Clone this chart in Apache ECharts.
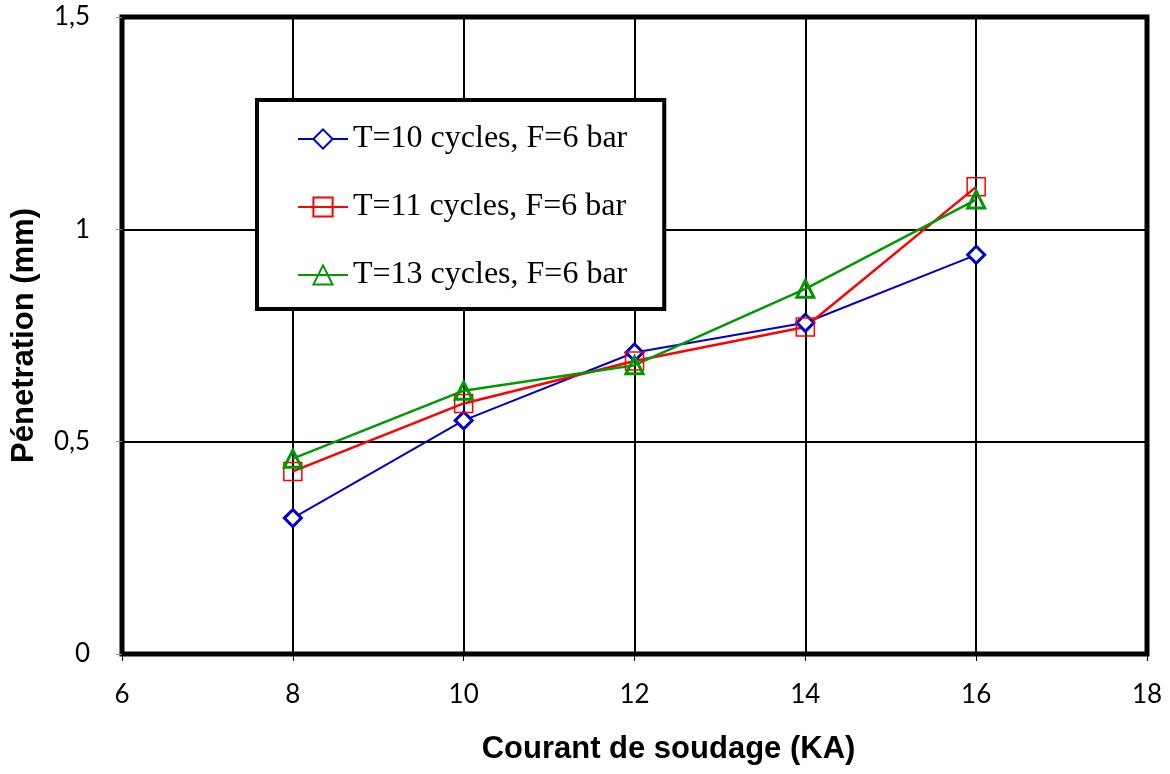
<!DOCTYPE html>
<html><head><meta charset="utf-8">
<script src="https://cdn.jsdelivr.net/npm/echarts@6/dist/echarts.min.js"></script>
<style>html,body{margin:0;padding:0;background:#fff}#c{width:1170px;height:774px}</style>
</head><body><div id="c"></div>
<script>
const currents = [8, 10, 12, 14, 16];
const seriesNames = ['T=10 cycles, F=6 bar', 'T=11 cycles, F=6 bar', 'T=13 cycles, F=6 bar'];
const penT10 = [0.32, 0.55, 0.71, 0.78, 0.94];
const penT11 = [0.43, 0.59, 0.69, 0.77, 1.10];
const penT13 = [0.46, 0.62, 0.68, 0.86, 1.07];
const xTitle = 'Courant de soudage (KA)';
const yTitle = 'Pénetration (mm)';

const pairs = v => currents.map((x, i) => [x, v[i]]);
const chart = echarts.init(document.getElementById('c'), null, {renderer: 'canvas'});
chart.setOption({
  animation: false,
  backgroundColor: '#fff',
  grid: {left: 122, right: 23, top: 17, bottom: 120, show: true, borderColor: '#000', borderWidth: 5, backgroundColor: 'transparent'},
  legend: {
    left: 257, top: 100, orient: 'vertical', selectedMode: false,
    backgroundColor: '#fff', borderColor: '#000', borderWidth: 4,
    padding: [23, 37, 18, 40], itemGap: 36, itemWidth: 50, itemHeight: 24,
    textStyle: {fontFamily: 'Liberation Serif', fontSize: 32, color: '#000'},
    data: seriesNames
  },
  xAxis: {
    type: 'value', min: 6, max: 18, interval: 2,
    name: xTitle, nameLocation: 'middle', nameGap: 80,
    nameTextStyle: {fontFamily: 'Liberation Sans', fontWeight: 'bold', fontSize: 31, color: '#000', padding: [0, 0, 0, 68]},
    axisLine: {show: false},
    axisTick: {show: true, length: 7, lineStyle: {color: '#000', width: 1}},
    axisLabel: {fontFamily: 'Lato', fontSize: 26, color: '#000', margin: 28},
    splitLine: {show: true, lineStyle: {color: '#000', width: 2}}
  },
  yAxis: {
    type: 'value', min: 0, max: 1.5, interval: 0.5,
    name: yTitle, nameLocation: 'middle', nameGap: 82, nameRotate: 90,
    nameTextStyle: {fontFamily: 'Liberation Sans', fontWeight: 'bold', fontSize: 31, color: '#000'},
    axisLine: {show: false},
    axisTick: {show: true, length: 6, lineStyle: {color: '#888', width: 1}},
    axisLabel: {fontFamily: 'Lato', fontSize: 26, color: '#000', margin: 32,
      formatter: v => String(v).replace('.', ',')},
    splitLine: {show: true, lineStyle: {color: '#000', width: 2}}
  },
  series: [
    {name: seriesNames[0], type: 'line', data: pairs(penT10), symbol: 'diamond', symbolSize: 17,
      lineStyle: {color: '#0000CC', width: 2}, itemStyle: {color: '#fff', borderColor: '#0000CC', borderWidth: 3}},
    {name: seriesNames[1], type: 'line', data: pairs(penT11), symbol: 'rect', symbolSize: 18,
      lineStyle: {color: '#FF0000', width: 2.5}, itemStyle: {color: 'rgba(255,255,255,0)', borderColor: '#FF0000', borderWidth: 1.5}},
    {name: seriesNames[2], type: 'line', data: pairs(penT13), symbol: 'triangle', symbolSize: 17,
      lineStyle: {color: '#009900', width: 2.5}, itemStyle: {color: 'rgba(255,255,255,0)', borderColor: '#009900', borderWidth: 3}}
  ]
});
</script></body></html>
